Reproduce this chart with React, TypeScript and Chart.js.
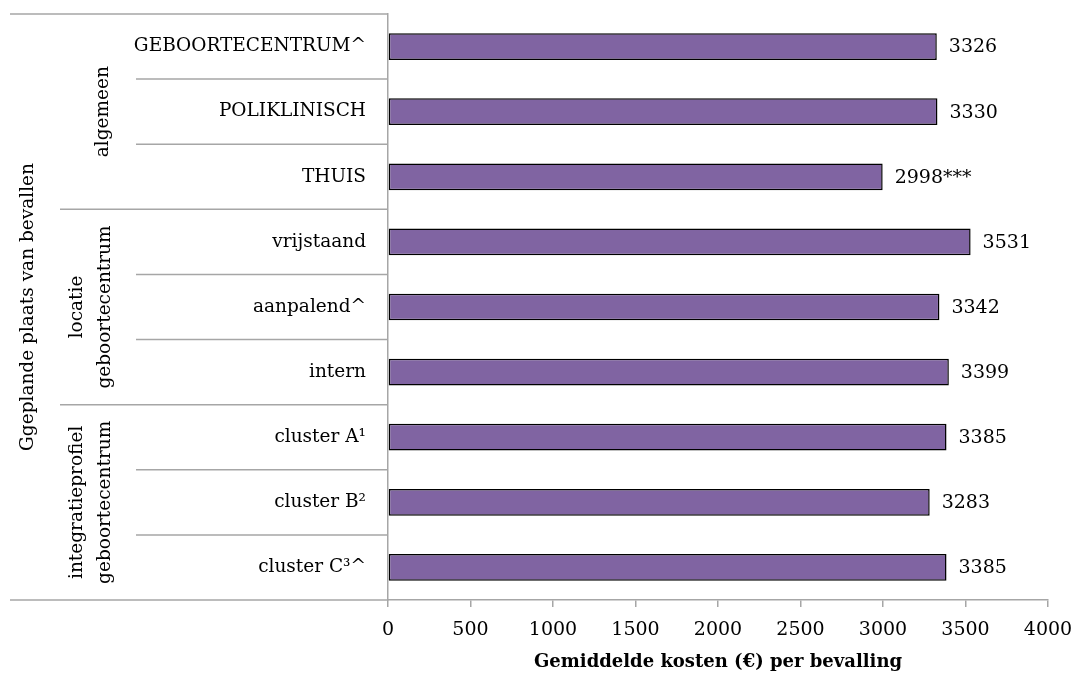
import React, { useEffect, useRef } from "react";
import { Chart, registerables } from "chart.js";

Chart.register(...registerables);

const categories = [
  "GEBOORTECENTRUM^",
  "POLIKLINISCH",
  "THUIS",
  "vrijstaand",
  "aanpalend^",
  "intern",
  "cluster A¹",
  "cluster B²",
  "cluster C³^",
];
const values = [3326, 3330, 2998, 3531, 3342, 3399, 3385, 3283, 3385];
const valueLabels = ["3326", "3330", "2998***", "3531", "3342", "3399", "3385", "3283", "3385"];
const groupLabels = [["algemeen"], ["locatie", "geboortecentrum"], ["integratieprofiel", "geboortecentrum"]];
const groupStarts = [0, 3, 6];
const groupEnds = [3, 6, 9];
const outerLabel = "Ggeplande plaats van bevallen";
const xTitle = "Gemiddelde kosten (€) per bevalling";
const xMin = 0;
const xMax = 4000;
const xStep = 500;

const FONT = "'DejaVu Serif', serif";
const LINE = "#a6a6a6";

const sidePlugin = {
  id: "sidePlugin",
  afterDatasetsDraw(chart: any) {
    const ctx = chart.ctx;
    const meta = chart.getDatasetMeta(0);
    ctx.save();
    ctx.font = `19px ${FONT}`;
    ctx.fillStyle = "#000";
    ctx.textAlign = "left";
    ctx.textBaseline = "middle";
    meta.data.forEach((bar: any, i: number) => {
      ctx.fillText(valueLabels[i], bar.x + 12, bar.y + 1);
    });
    ctx.restore();
  },
  afterDraw(chart: any) {
    const ctx = chart.ctx;
    const y = chart.scales.y;
    const left = chart.chartArea.left;
    const n = categories.length;
    const step = (y.bottom - y.top) / n;
    ctx.save();
    ctx.strokeStyle = LINE;
    ctx.lineWidth = 1.5;
    for (let i = 0; i <= n; i++) {
      const py = y.top + i * step;
      let x0 = 136;
      if (i === 0 || i === n) x0 = 10;
      else if (groupStarts.includes(i)) x0 = 60;
      ctx.beginPath();
      ctx.moveTo(x0, py);
      ctx.lineTo(left, py);
      ctx.stroke();
    }
    ctx.fillStyle = "#000";
    ctx.font = `18.5px ${FONT}`;
    ctx.textAlign = "center";
    ctx.textBaseline = "alphabetic";
    groupLabels.forEach((lines, g) => {
      const cy = y.top + ((groupStarts[g] + groupEnds[g]) / 2) * step;
      const baselines = lines.length === 1 ? [108] : [82, 110];
      lines.forEach((t, k) => {
        ctx.save();
        ctx.translate(baselines[k], cy);
        ctx.rotate(-Math.PI / 2);
        ctx.fillText(t, 0, 0);
        ctx.restore();
      });
    });
    ctx.save();
    ctx.translate(33, (y.top + y.bottom) / 2);
    ctx.rotate(-Math.PI / 2);
    ctx.fillText(outerLabel, 0, 0);
    ctx.restore();
    ctx.restore();
  },
};

export default function App() {
  const ref = useRef<HTMLCanvasElement | null>(null);
  useEffect(() => {
    if (!ref.current) return;
    const chart = new Chart(ref.current, {
      type: "bar",
      data: {
        labels: categories,
        datasets: [
          {
            data: values,
            backgroundColor: "#8064A2",
            borderColor: "#000000",
            borderWidth: 1.5,
            borderSkipped: false,
            barPercentage: 0.41,
            categoryPercentage: 1,
          },
        ],
      },
      options: {
        indexAxis: "y",
        animation: false,
        responsive: true,
        maintainAspectRatio: false,
        layout: { padding: { top: 14, left: 0, right: 0, bottom: 0 } },
        plugins: { legend: { display: false }, tooltip: { enabled: false } },
        scales: {
          x: {
            type: "linear",
            position: "bottom",
            min: xMin,
            max: xMax,
            ticks: {
              stepSize: xStep,
              color: "#000",
              font: { family: FONT, size: 19 },
              padding: 12,
              callback: (v: any) => String(v),
            },
            grid: {
              drawOnChartArea: false,
              drawTicks: true,
              tickLength: 7,
              color: LINE,
              lineWidth: 1.5,
            },
            border: { display: true, color: LINE, width: 1.5 },
            title: {
              display: true,
              text: xTitle,
              color: "#000",
              font: { family: FONT, size: 18, weight: "bold" },
              padding: { top: 2, bottom: 2 },
            },
            afterFit: (s: any) => {
              s.height = 75;
              s.paddingLeft = 0;
              s.paddingRight = 27;
            },
          },
          y: {
            type: "category",
            position: "left",
            ticks: {
              color: "#000",
              font: { family: FONT, size: 18.5 },
              padding: 22,
            },
            grid: { display: false, drawTicks: false },
            border: { display: true, color: LINE, width: 1.5 },
            afterFit: (s: any) => {
              s.width = 388;
              s.paddingTop = 0;
              s.paddingBottom = 0;
            },
          },
        },
      },
      plugins: [sidePlugin],
    });
    return () => chart.destroy();
  }, []);
  return (
    <div style={{ position: "fixed", left: 0, top: 0, width: 1075, height: 675, background: "#fff" }}>
      <canvas ref={ref} />
    </div>
  );
}
